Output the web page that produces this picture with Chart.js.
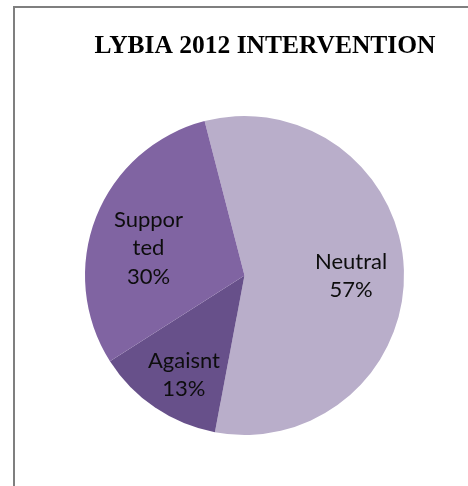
<!DOCTYPE html>
<html>
<head>
<meta charset="utf-8">
<script src="https://cdn.jsdelivr.net/npm/chart.js@4/dist/chart.umd.min.js"></script>
<style>
  html, body { margin: 0; padding: 0; background: #fff; }
  #wrap { position: relative; width: 468px; height: 486px; overflow: hidden; }
  #frame {
    position: absolute; left: 13px; top: 6px; right: -4px; bottom: -4px;
    border-left: 2px solid #7f7f7f; border-top: 2px solid #7f7f7f;
  }
  canvas { position: absolute; left: 0; top: 0; }
</style>
</head>
<body>
<div id="wrap">
  <div id="frame"></div>
  <canvas id="chart" width="468" height="486"></canvas>
</div>
<script>
// Survey answers on the 2012 Libya intervention
const titleText = 'LYBIA 2012 INTERVENTION';
const categories = ['Neutral', 'Agaisnt', 'Supported'];
const shares = [57, 13, 30];
const labelLines = [['Neutral'], ['Agaisnt'], ['Suppor', 'ted']];
const sliceColors = ['#B9AECA', '#67508A', '#8064A2'];

// Where each label sits: fraction of the radius and a nudge (degrees) off the slice mid-angle
const labelPlacement = [
  { r: 0.668, turn: 2.2 },
  { r: 0.729, turn: -2.7 },
  { r: 0.626, turn: -5.6 }
];

const sliceLabels = {
  id: 'sliceLabels',
  afterDatasetsDraw(chart) {
    const ctx = chart.ctx;
    const meta = chart.getDatasetMeta(0);
    const total = shares.reduce((a, b) => a + b, 0);
    ctx.save();
    ctx.fillStyle = '#0d0d0d';
    ctx.font = '22px Lato';
    ctx.textAlign = 'center';
    ctx.textBaseline = 'middle';
    const lineH = 28.5;
    meta.data.forEach((arc, i) => {
      const p = arc.getProps(['x', 'y', 'startAngle', 'endAngle', 'outerRadius'], true);
      const mid = (p.startAngle + p.endAngle) / 2 + labelPlacement[i].turn * Math.PI / 180;
      const rr = p.outerRadius * labelPlacement[i].r;
      const cx = p.x + Math.cos(mid) * rr;
      const cy = p.y + Math.sin(mid) * rr;
      const pct = Math.round(shares[i] / total * 100) + '%';
      const lines = labelLines[i].concat([pct]);
      const top = cy - (lines.length - 1) * lineH / 2;
      lines.forEach((t, k) => ctx.fillText(t, cx, top + k * lineH));
    });
    ctx.restore();
  }
};

const chartTitle = {
  id: 'chartTitle',
  afterDraw(chart) {
    const ctx = chart.ctx;
    ctx.save();
    ctx.fillStyle = '#000';
    ctx.font = 'bold 25.5px "Liberation Serif"';
    ctx.textAlign = 'center';
    ctx.textBaseline = 'alphabetic';
    ctx.fillText(titleText, 265, 53);
    ctx.restore();
  }
};

new Chart(document.getElementById('chart'), {
  type: 'pie',
  data: {
    labels: categories,
    datasets: [{
      data: shares,
      backgroundColor: sliceColors,
      borderWidth: 0
    }]
  },
  options: {
    responsive: false,
    animation: false,
    rotation: -14.5,
    layout: { padding: { left: 85, right: 64, top: 116, bottom: 51 } },
    plugins: {
      legend: { display: false },
      tooltip: { enabled: false },
      title: { display: false }
    }
  },
  plugins: [sliceLabels, chartTitle]
});
</script>
</body>
</html>
